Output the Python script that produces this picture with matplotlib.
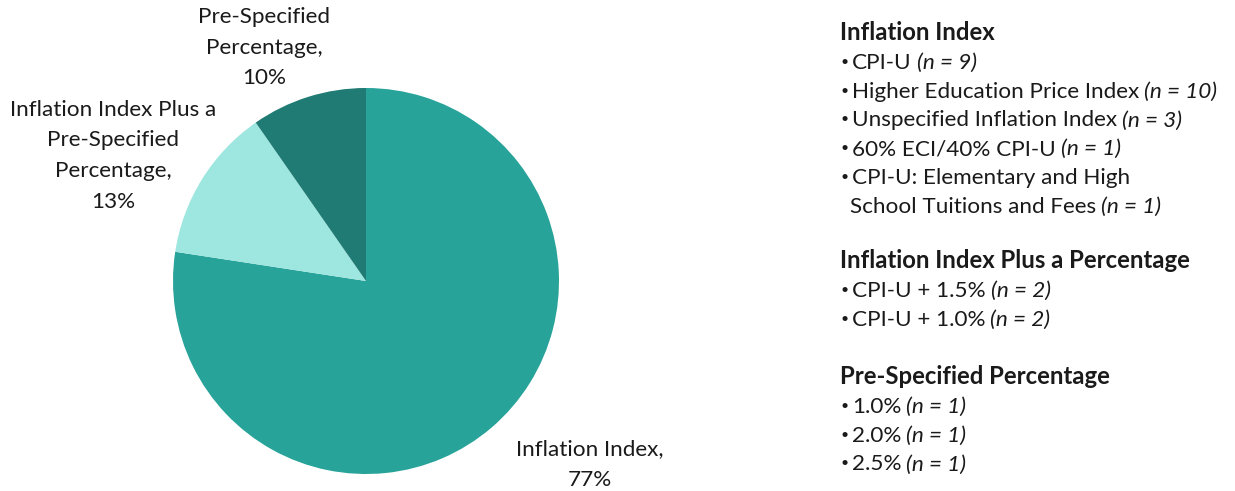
import matplotlib.pyplot as plt

plt.rcParams['font.family'] = ['Lato', 'DejaVu Sans']

# slice groups, in drawing order (clockwise from 12 o'clock)
groups = ["Inflation Index", "Inflation Index Plus a Percentage", "Pre-Specified Percentage"]
pie_labels = ["Inflation Index,", "Inflation Index Plus a\nPre-Specified\nPercentage,", "Pre-Specified\nPercentage,"]
colors = ["#27a39a", "#9ee6e0", "#1f7b73"]

# items listed under each group, with their counts
index_items = ["CPI-U", "Higher Education Price Index", "Unspecified Inflation Index",
               "60% ECI/40% CPI-U", "CPI-U: Elementary and High\nSchool Tuitions and Fees"]
index_n = [9, 10, 3, 1, 1]
plus_items = ["CPI-U + 1.5%", "CPI-U + 1.0%"]
plus_n = [2, 2]
fixed_items = ["1.0%", "2.0%", "2.5%"]
fixed_n = [1, 1, 1]

totals = [sum(index_n), sum(plus_n), sum(fixed_n)]
grand = sum(totals)
pcts = [round(100 * t / grand) for t in totals]

W, H = 1235, 491
fig = plt.figure(figsize=(W / 100, H / 100), dpi=100)

# pie axes: centre (366, 281) px, radius 193 px
cx, cy, r = 366, 281, 193
ax = fig.add_axes([(cx - r) / W, (H - cy - r) / H, 2 * r / W, 2 * r / H])
ax.pie(totals, colors=colors, startangle=90, counterclock=False, radius=1,
       wedgeprops=dict(linewidth=0))
ax.set_xlim(-1, 1)
ax.set_ylim(-1, 1)
ax.set_aspect('equal')
ax.axis('off')

fs = 16.2
# slice labels, placed in pixels (x centre, y of first line)
label_pos = [(590, 449), (113, 110), (264, 17)]
for lab, p, (lx, ly) in zip(pie_labels, pcts, label_pos):
    lines = (lab + f"\n{p}%").split("\n")
    for i, line in enumerate(lines):
        fig.text(lx / W, 1 - (ly + i * 30.5) / H, line, ha='center', va='center',
                 fontsize=fs, color='#1a1a1a')

renderer = fig.canvas.get_renderer()
fs2 = 16.2


def item_line(x, y, text, n=None):
    t = fig.text(x / W, 1 - y / H, text, ha='left', va='baseline',
                 fontsize=fs2, color='#1a1a1a')
    if n is not None:
        bb = t.get_window_extent(renderer)
        fig.text((bb.x1 + 5) / W, 1 - y / H, f"(n = {n})", ha='left', va='baseline',
                 fontsize=fs2, style='italic', color='#1a1a1a')


blocks = [(groups[0], index_items, index_n, 40),
          (groups[1], plus_items, plus_n, 268),
          (groups[2], fixed_items, fixed_n, 384)]
step = 28.8
for head, items, ns, y0 in blocks:
    fig.text(840 / W, 1 - y0 / H, head, ha='left', va='baseline',
             fontsize=17.2, fontweight='bold', color='#1a1a1a')
    y = y0
    for item, n in zip(items, ns):
        y += step
        parts = item.split("\n")
        # small bullet, lifted to sit at mid x-height
        fig.text(840 / W, 1 - (y - 3) / H, "•", ha='left', va='baseline',
                 fontsize=10, color='#1a1a1a')
        for k, part in enumerate(parts):
            last = k == len(parts) - 1
            item_line(852 if k == 0 else 850, y, part, n if last else None)
            if not last:
                y += step

fig.savefig("out.png", dpi=100, facecolor='white')
